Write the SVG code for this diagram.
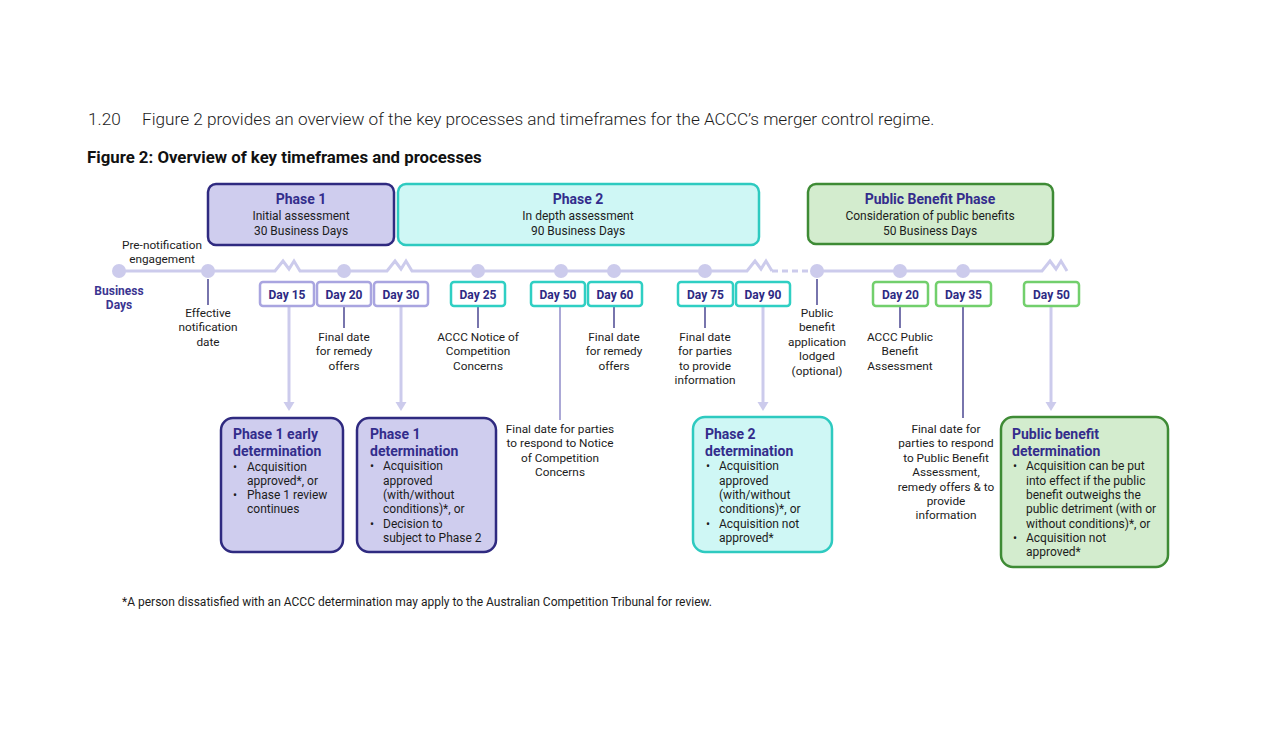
<svg xmlns="http://www.w3.org/2000/svg" width="1265" height="750" viewBox="0 0 1265 750">
<defs>
<style>
text{font-family:Roboto,"Liberation Sans",sans-serif;fill:#1c1c1c}
.lbl{font-size:11.8px;text-anchor:middle}
.day{font-size:12px;font-weight:bold;fill:#2e2a83;text-anchor:middle}
.ht{font-size:14px;font-weight:bold;fill:#332d8c;text-anchor:middle}
.hs{font-size:12px;text-anchor:middle}
.bt{font-size:14px;font-weight:bold;fill:#332d8c}
.bb{font-size:12px}
.d1{fill:#fff;stroke:#a9a5e0;stroke-width:2.5}
.d2{fill:#fff;stroke:#2fcfc3;stroke-width:2.5}
.d3{fill:#fff;stroke:#72cf6c;stroke-width:2.5}
.p1{fill:#cfcdee;stroke:#2f2a80;stroke-width:2.5}
.p2{fill:#cff7f5;stroke:#2ecac0;stroke-width:2.5}
.p3{fill:#d3ecce;stroke:#3e8b35;stroke-width:2.5}
.thin{stroke:#2f2a80;stroke-width:1.3;fill:none}
.thick{stroke:#cccbec;stroke-width:3;fill:none}
.dot{fill:#cccbec}
</style>
</defs>
<rect width="1265" height="750" fill="#fff"/>
<text x="88" y="125" style="font-size:17.2px;font-weight:300">1.20</text>
<text x="142" y="125" style="font-size:17.2px;font-weight:300">Figure 2 provides an overview of the key processes and timeframes for the ACCC’s merger control regime.</text>
<text x="87" y="163" style="font-size:16.8px;font-weight:bold;fill:#111">Figure 2: Overview of key timeframes and processes</text>

<g id="connectors">
<path class="thick" d="M119 271 H275 L283 261 L289 269 L294 261 L300 271 H387 L395 261 L401 269 L406 261 L412 271 H747 L755 261 L761 269 L766 261 L772 271"/>
<path class="thick" d="M772 271 H812" stroke-dasharray="6 4"/>
<path class="thick" d="M817 271 H1042 L1050 261 L1056 269 L1061 261 L1067 271"/>
<line class="thin" x1="208" y1="279" x2="208" y2="305"/>
<line class="thin" x1="344" y1="306" x2="344" y2="328"/>
<line class="thin" x1="478" y1="306" x2="478" y2="328"/>
<line x1="560" y1="306" x2="560" y2="420" stroke="#8f8bc8" stroke-width="1.5"/>
<line class="thin" x1="614" y1="306" x2="614" y2="328"/>
<line class="thin" x1="705" y1="306" x2="705" y2="328"/>
<line class="thin" x1="817" y1="279" x2="817" y2="305"/>
<line class="thin" x1="900" y1="306" x2="900" y2="328"/>
<line class="thin" x1="963" y1="306" x2="963" y2="418"/>
<g fill="#cccbec">
<line class="thick" x1="289" y1="306" x2="289" y2="403"/><path d="M283.5 402 L294.5 402 L289 411 Z"/>
<line class="thick" x1="401" y1="306" x2="401" y2="403"/><path d="M395.5 402 L406.5 402 L401 411 Z"/>
<line class="thick" x1="763" y1="306" x2="763" y2="403"/><path d="M757.5 402 L768.5 402 L763 411 Z"/>
<line class="thick" x1="1051" y1="306" x2="1051" y2="403"/><path d="M1045.5 402 L1056.5 402 L1051 411 Z"/>
</g>
</g>

<g id="dots">
<circle class="dot" cx="119" cy="271" r="7"/>
<circle class="dot" cx="208" cy="271" r="7"/>
<circle class="dot" cx="344" cy="271" r="7"/>
<circle class="dot" cx="478" cy="271" r="7"/>
<circle class="dot" cx="561" cy="271" r="7"/>
<circle class="dot" cx="614" cy="271" r="7"/>
<circle class="dot" cx="705" cy="271" r="7"/>
<circle class="dot" cx="817" cy="271" r="7"/>
<circle class="dot" cx="900" cy="271" r="7"/>
<circle class="dot" cx="963" cy="271" r="7"/>
</g>

<g id="phase1">
<rect class="p1" x="208" y="184" width="186" height="61" rx="8"/>
<text class="ht" x="301" y="204">Phase 1</text>
<text class="hs" x="301" y="219.5">Initial assessment</text>
<text class="hs" x="301" y="234.5">30 Business Days</text>
</g>
<g id="phase2">
<rect class="p2" x="398" y="184" width="361" height="61" rx="8"/>
<text class="ht" x="578" y="204">Phase 2</text>
<text class="hs" x="578" y="219.5">In depth assessment</text>
<text class="hs" x="578" y="234.5">90 Business Days</text>
</g>
<g id="pbphase">
<rect class="p3" x="808" y="184" width="245" height="60" rx="8"/>
<text class="ht" x="930" y="204">Public Benefit Phase</text>
<text class="hs" x="930" y="219.5">Consideration of public benefits</text>
<text class="hs" x="930" y="234.5">50 Business Days</text>
</g>

<g id="prenotification">
<text class="lbl" x="162" y="249">Pre-notification</text>
<text class="lbl" x="162" y="263">engagement</text>
</g>
<g id="businessdays">
<text x="119" y="295" style="font-size:12px;font-weight:bold;fill:#3b3591;text-anchor:middle">Business</text>
<text x="119" y="309" style="font-size:12px;font-weight:bold;fill:#3b3591;text-anchor:middle">Days</text>
</g>
<g id="effective">
<text class="lbl" x="208" y="317">Effective</text>
<text class="lbl" x="208" y="331">notification</text>
<text class="lbl" x="208" y="346">date</text>
</g>

<g id="day15"><rect class="d1" x="260" y="282" width="54" height="24" rx="3"/><text class="day" x="287" y="298.5">Day 15</text></g>
<g id="day20"><rect class="d1" x="317" y="282" width="54" height="24" rx="3"/><text class="day" x="344" y="298.5">Day 20</text>
<text class="lbl" x="344" y="341">Final date</text><text class="lbl" x="344" y="355">for remedy</text><text class="lbl" x="344" y="370">offers</text></g>
<g id="day30"><rect class="d1" x="374" y="282" width="54" height="24" rx="3"/><text class="day" x="401" y="298.5">Day 30</text></g>
<g id="day25"><rect class="d2" x="451" y="282" width="54" height="24" rx="3"/><text class="day" x="478" y="298.5">Day 25</text>
<text class="lbl" x="478" y="341">ACCC Notice of</text><text class="lbl" x="478" y="355">Competition</text><text class="lbl" x="478" y="370">Concerns</text></g>
<g id="day50"><rect class="d2" x="531" y="282" width="54" height="24" rx="3"/><text class="day" x="558" y="298.5">Day 50</text>
<text class="lbl" x="560" y="433">Final date for parties</text><text class="lbl" x="560" y="447">to respond to Notice</text><text class="lbl" x="560" y="462">of Competition</text><text class="lbl" x="560" y="476">Concerns</text></g>
<g id="day60"><rect class="d2" x="588" y="282" width="54" height="24" rx="3"/><text class="day" x="615" y="298.5">Day 60</text>
<text class="lbl" x="614" y="341">Final date</text><text class="lbl" x="614" y="355">for remedy</text><text class="lbl" x="614" y="370">offers</text></g>
<g id="day75"><rect class="d2" x="678" y="282" width="55" height="24" rx="3"/><text class="day" x="705.5" y="298.5">Day 75</text>
<text class="lbl" x="705" y="341">Final date</text><text class="lbl" x="705" y="355">for parties</text><text class="lbl" x="705" y="370">to provide</text><text class="lbl" x="705" y="384">information</text></g>
<g id="day90"><rect class="d2" x="736" y="282" width="54" height="24" rx="3"/><text class="day" x="763" y="298.5">Day 90</text></g>
<g id="pbapp">
<text class="lbl" x="817" y="317">Public</text><text class="lbl" x="817" y="331">benefit</text><text class="lbl" x="817" y="346">application</text><text class="lbl" x="817" y="360">lodged</text><text class="lbl" x="817" y="375">(optional)</text></g>
<g id="pbday20"><rect class="d3" x="873" y="282" width="55" height="24" rx="3"/><text class="day" x="900.5" y="298.5">Day 20</text>
<text class="lbl" x="900" y="341">ACCC Public</text><text class="lbl" x="900" y="355">Benefit</text><text class="lbl" x="900" y="370">Assessment</text></g>
<g id="pbday35"><rect class="d3" x="936" y="282" width="55" height="24" rx="3"/><text class="day" x="963.5" y="298.5">Day 35</text>
<text class="lbl" x="946" y="433">Final date for</text><text class="lbl" x="946" y="447">parties to respond</text><text class="lbl" x="946" y="462">to Public Benefit</text><text class="lbl" x="946" y="476">Assessment,</text><text class="lbl" x="946" y="491">remedy offers &amp; to</text><text class="lbl" x="946" y="505">provide</text><text class="lbl" x="946" y="519">information</text></g>
<g id="pbday50"><rect class="d3" x="1024" y="282" width="55" height="24" rx="3"/><text class="day" x="1051.5" y="298.5">Day 50</text></g>

<g id="p1early">
<rect class="p1" x="221" y="418" width="122" height="134" rx="12"/>
<text class="bt" x="233" y="439">Phase 1 early</text>
<text class="bt" x="233" y="456">determination</text>
<text class="bb" x="233" y="471">•</text><text class="bb" x="247" y="471">Acquisition</text>
<text class="bb" x="247" y="485">approved*, or</text>
<text class="bb" x="233" y="499">•</text><text class="bb" x="247" y="499">Phase 1 review</text>
<text class="bb" x="247" y="513">continues</text>
</g>
<g id="p1det">
<rect class="p1" x="357" y="418" width="139" height="134" rx="12"/>
<text class="bt" x="370" y="439">Phase 1</text>
<text class="bt" x="370" y="456">determination</text>
<text class="bb" x="370" y="470">•</text><text class="bb" x="383" y="470">Acquisition</text>
<text class="bb" x="383" y="485">approved</text>
<text class="bb" x="383" y="499">(with/without</text>
<text class="bb" x="383" y="513">conditions)*, or</text>
<text class="bb" x="370" y="528">•</text><text class="bb" x="383" y="528">Decision to</text>
<text class="bb" x="383" y="542">subject to Phase 2</text>
</g>
<g id="p2det">
<rect class="p2" x="693" y="417" width="139" height="135" rx="12"/>
<text class="bt" x="705" y="439">Phase 2</text>
<text class="bt" x="705" y="456">determination</text>
<text class="bb" x="706" y="470">•</text><text class="bb" x="719" y="470">Acquisition</text>
<text class="bb" x="719" y="485">approved</text>
<text class="bb" x="719" y="499">(with/without</text>
<text class="bb" x="719" y="513">conditions)*, or</text>
<text class="bb" x="706" y="528">•</text><text class="bb" x="719" y="528">Acquisition not</text>
<text class="bb" x="719" y="542">approved*</text>
</g>
<g id="pbdet">
<rect class="p3" x="1001" y="417" width="167" height="150" rx="12"/>
<text class="bt" x="1012" y="439">Public benefit</text>
<text class="bt" x="1012" y="456">determination</text>
<text class="bb" x="1013" y="470">•</text><text class="bb" x="1026" y="470">Acquisition can be put</text>
<text class="bb" x="1026" y="485">into effect if the public</text>
<text class="bb" x="1026" y="499">benefit outweighs the</text>
<text class="bb" x="1026" y="513">public detriment (with or</text>
<text class="bb" x="1026" y="528">without conditions)*, or</text>
<text class="bb" x="1013" y="542">•</text><text class="bb" x="1026" y="542">Acquisition not</text>
<text class="bb" x="1026" y="556">approved*</text>
</g>

<text x="122" y="606" style="font-size:12px">*A person dissatisfied with an ACCC determination may apply to the Australian Competition Tribunal for review.</text>
</svg>
